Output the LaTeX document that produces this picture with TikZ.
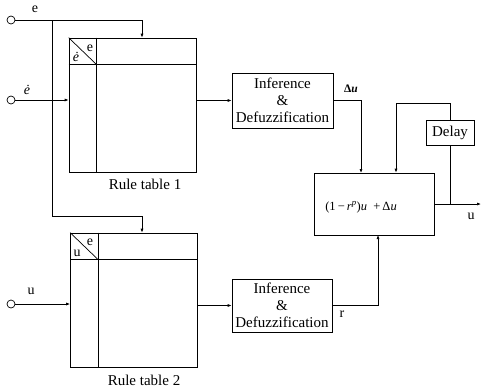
\documentclass[tikz,border=0pt]{standalone}
\usepackage{fontspec}
\setmainfont{Liberation Serif}
\usetikzlibrary{arrows.meta,calc}
\begin{document}
\begin{tikzpicture}[x=1bp,y=-1bp,
  line width=0.7bp,
  arr/.style={-{Latex[length=4bp,width=3bp]}},
  blk/.style={draw,rectangle,inner sep=0pt,font=\fontsize{15bp}{17bp}\selectfont,align=center},
  tabbox/.style={draw,rectangle,inner sep=0pt,minimum width=127bp,minimum height=134bp},
  port/.style={draw,circle,inner sep=0pt,minimum size=8bp},
  lbl/.style={inner sep=0pt,font=\fontsize{14bp}{16bp}\selectfont},
  small/.style={inner sep=0pt,font=\fontsize{12.5bp}{14bp}\selectfont}]
\useasboundingbox (0,0) rectangle (481,388);

% inputs
\node[port] (ce) at (11,20) {};
\node[port] (cd) at (11,100) {};
\node[port] (cu) at (11,304) {};
\node[lbl] (le) at (35,9) {e};
\node[lbl] (ld) at (27,90) {\textit{ė}};
\node[lbl] (lu) at (31,291) {u};

% rule tables
\node[tabbox] (tab1) at (132.5,105) {};
\node[tabbox] (tab2) at (134,300) {};
\draw ($(tab1.north west)+(0,27)$) -- ($(tab1.north east)+(0,27)$);
\draw ($(tab1.north west)+(28,0)$) -- ($(tab1.south west)+(28,0)$);
\draw (tab1.north west) -- ($(tab1.north west)+(28,27)$);
\draw ($(tab2.north west)+(0,27)$) -- ($(tab2.north east)+(0,27)$);
\draw ($(tab2.north west)+(28,0)$) -- ($(tab2.south west)+(28,0)$);
\draw (tab2.north west) -- ($(tab2.north west)+(28,27)$);
\node[lbl] (t1e) at (90,48) {e};
\node[lbl] (t1d) at (76,57) {\textit{ė}};
\node[lbl] (t2e) at (90,242) {e};
\node[lbl] (t2u) at (77,253) {u};
\node[lbl,font=\fontsize{15bp}{17bp}\selectfont] (rt1) at (145,184) {Rule table 1};
\node[lbl,font=\fontsize{15bp}{17bp}\selectfont] (rt2) at (144,380) {Rule table 2};

% inference blocks
\node[blk,minimum width=101bp,minimum height=55bp] (inf1) at (282.5,100.5) {Inference\\\&\\Defuzzification};
\node[blk,minimum width=100bp,minimum height=53bp] (inf2) at (282,305.5) {Inference\\\&\\Defuzzification};

% sum block
\node[draw,rectangle,inner sep=0pt,minimum width=120bp,minimum height=62bp] (sum) at (374,204) {};
\node[small] (sumtxt) at (361,207) {(1\,−\,\textit{r}\textsuperscript{\textit{p}})\textit{u}\enspace+\,Δ\textit{u}};

% delay
\node[blk,minimum width=48bp,minimum height=25bp] (delay) at (450,132.5) {Delay};

% coordinates
\coordinate (j1) at (52,20);
\coordinate (j2) at (52,216);
\coordinate (a1) at (142,20);
\coordinate (a2) at (142,216);
\coordinate (s1) at (361,173);
\coordinate (fb) at (396,103);
\coordinate (s2) at (378,235);
\coordinate (uout) at (481,204);

% connectors
\draw[arr] (ce) -- (a1) -- (a1 |- tab1.north);
\draw (j1) -- (j2) -- (a2);
\draw[arr] (a2) -- (a2 |- tab2.north);
\draw[arr] (cd) -- (cd -| tab1.west);
\draw[arr] (cu) -- (cu -| tab2.west);
\draw[arr] (tab1.east |- inf1.west) -- (inf1.west);
\draw[arr] (tab2.east |- inf2.west) -- (inf2.west);
\draw[arr] (inf1.east) -| (s1);
\draw[arr] (inf2.east) -| (s2);
\draw[arr] (sum.east) -- (uout);
\draw (delay.south) -- (delay.south |- sum.east);
\draw[arr] (delay.north) |- (fb) -- (fb |- sum.north);

% connector labels
\node[inner sep=0pt,font=\fontsize{11.5bp}{13bp}\selectfont\bfseries] (ldu) at (351,89) {Δ\textit{u}};
\node[lbl] (lr) at (342,314) {r};
\node[lbl] (luo) at (471,216) {u};
\end{tikzpicture}
\end{document}
